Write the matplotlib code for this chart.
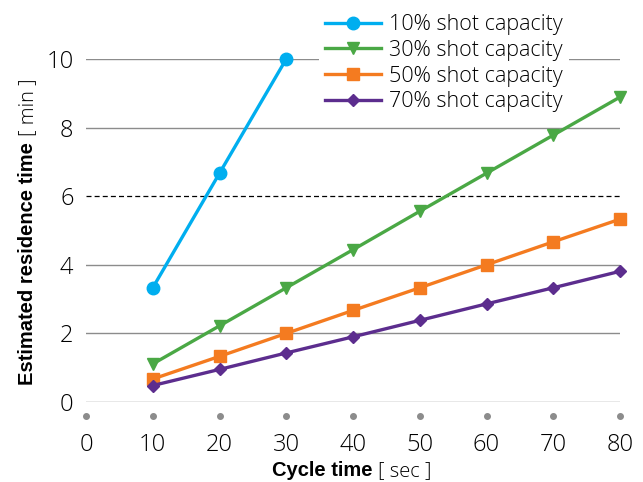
import matplotlib
matplotlib.use("Agg")
import matplotlib.pyplot as plt

# data
cycle_10 = [10, 20, 30]
res_10 = [3.33, 6.67, 10.0]
cycle = [10, 20, 30, 40, 50, 60, 70, 80]
res_30 = [1.11, 2.22, 3.33, 4.44, 5.56, 6.67, 7.78, 8.89]
res_50 = [0.67, 1.33, 2.0, 2.67, 3.33, 4.0, 4.67, 5.33]
res_70 = [0.48, 0.95, 1.43, 1.90, 2.38, 2.86, 3.33, 3.81]
x_ticks = [0, 10, 20, 30, 40, 50, 60, 70, 80]
y_ticks = [0, 2, 4, 6, 8, 10]
limit_line = 6

plt.rcParams['font.family'] = ['Open Sans', 'DejaVu Sans']
bold_font = ['Liberation Sans', 'DejaVu Sans']

fig = plt.figure(figsize=(6.43, 4.82), dpi=100)
ax = fig.add_axes([86 / 643, 80 / 482, 534 / 643, 343 / 482])
ax.set_xlim(0, 80)
ax.set_ylim(0, 10)

for y in y_ticks:
    if y == limit_line:
        ax.axhline(y, color='black', lw=0.9, ls=(0, (4, 2.5)), zorder=1)
    else:
        ax.axhline(y, color='#8c8c8c', lw=1.0, zorder=1)

lw, ms = 2.4, 8
series = [
    (cycle_10, res_10, '#00aeef', 'o', ms + 1, '10% shot capacity'),
    (cycle, res_30, '#4aa845', 'v', ms + 1, '30% shot capacity'),
    (cycle, res_50, '#f47b20', 's', ms, '50% shot capacity'),
    (cycle, res_70, '#5c2d8e', 'D', ms - 1.5, '70% shot capacity'),
]
for xs, ys, c, m, size, lab in series:
    ax.plot(xs, ys, color=c, marker=m, ms=size, lw=lw, label=lab,
            clip_on=False, zorder=3)

# grey dots under the x ticks
ax.plot(x_ticks, [-0.41] * len(x_ticks), 'o', color='#8c8c8c', ms=4,
        clip_on=False, zorder=2)

for s in ax.spines.values():
    s.set_visible(False)
ax.set_xticks(x_ticks)
ax.set_yticks(y_ticks)
ax.tick_params(length=0, labelsize=17)
ax.tick_params(axis='x', pad=22)
ax.tick_params(axis='y', pad=9)
for t in ax.get_xticklabels() + ax.get_yticklabels():
    t.set_fontweight('light')

leg = fig.legend(loc='upper left', bbox_to_anchor=(308 / 643, 1 + 3 / 482),
                 fontsize=15.5, frameon=True, handlelength=2.6,
                 labelspacing=0.22, handletextpad=0.35, borderpad=0.3)
leg.get_frame().set_facecolor('white')
leg.get_frame().set_edgecolor('none')
leg.get_frame().set_alpha(1)
for t in leg.get_texts():
    t.set_fontweight('light')

# axis titles: bold part followed by a light bracket part
fig.canvas.draw()
r = fig.canvas.get_renderer()
W, H = fig.bbox.width, fig.bbox.height

xb = fig.text(0, 0, 'Cycle time ', fontsize=14.5, fontweight='bold',
              family=bold_font, va='baseline')
xl = fig.text(0, 0, '[ sec ]', fontsize=14.5, fontweight='light',
              va='baseline')
wb = xb.get_window_extent(r).width
wl = xl.get_window_extent(r).width
x0 = 352 - (wb + wl) / 2
base = H - 476
xb.set_position((x0 / W, base / H))
xl.set_position(((x0 + wb) / W, base / H))

yb = fig.text(0, 0, 'Estimated residence time ', fontsize=14.5,
              fontweight='bold', family=bold_font, rotation=90,
              rotation_mode='anchor', ha='left', va='baseline')
yl = fig.text(0, 0, '[ min ]', fontsize=14.5, fontweight='light',
              rotation=90, rotation_mode='anchor', ha='left', va='baseline')
hb = yb.get_window_extent(r).height
hl = yl.get_window_extent(r).height
y0 = (H - 231.5) - (hb + hl) / 2
xbase = 33
yb.set_position((xbase / W, y0 / H))
yl.set_position((xbase / W, (y0 + hb) / H))

fig.savefig('out.png', dpi=100)
